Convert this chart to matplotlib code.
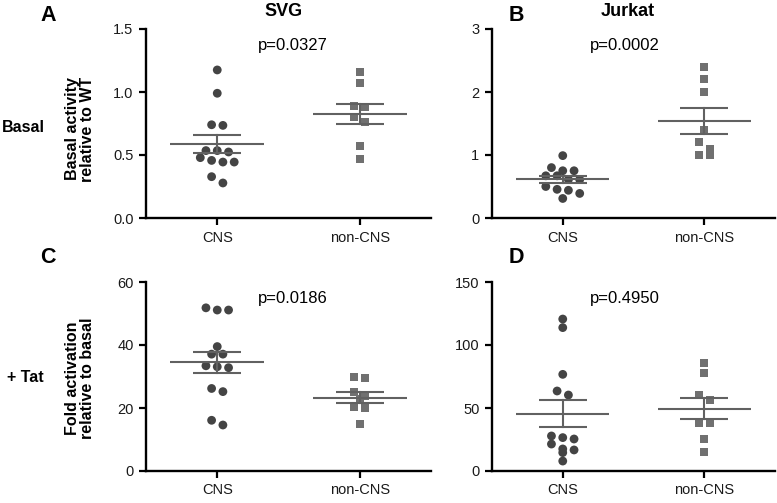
import numpy as np
import matplotlib
matplotlib.use("Agg")
import matplotlib.pyplot as plt

plt.rcParams['font.family'] = ['Liberation Sans', 'DejaVu Sans']

# ---------------- data ----------------
categories = ["CNS", "non-CNS"]
svg_basal_cns = [1.175, 0.99, 0.74, 0.735, 0.535, 0.535, 0.524, 0.479, 0.457, 0.444, 0.444, 0.328, 0.278]
svg_basal_noncns = [1.156, 1.069, 0.889, 0.878, 0.799, 0.76, 0.574, 0.466]
jurkat_basal_cns = [0.99, 0.80, 0.75, 0.75, 0.67, 0.67, 0.61, 0.61, 0.50, 0.455, 0.44, 0.39, 0.31]
jurkat_basal_noncns = [2.40, 2.20, 2.00, 1.40, 1.20, 1.10, 1.00, 1.00]
svg_tat_cns = [51.8, 51.1, 51.1, 39.5, 37.1, 37.1, 33.4, 33.1, 32.8, 26.2, 25.2, 16.1, 14.6]
svg_tat_noncns = [29.9, 29.4, 25.2, 23.8, 22.8, 20.4, 19.9, 14.9]
jurkat_tat_cns = [120.6, 113.8, 76.7, 63.5, 60.3, 27.8, 26.5, 25.4, 21.4, 17.5, 16.7, 14.6, 7.9]
jurkat_tat_noncns = [85.4, 77.5, 60.3, 56.3, 38.4, 38.4, 25.4, 15.1]
p_values = ["p=0.0327", "p=0.0002", "p=0.0186", "p=0.4950"]
titles = ["SVG", "Jurkat"]
panel_letters = ["A", "B", "C", "D"]
row_labels = ["Basal", "+ Tat"]
y_labels = ["Basal activity\nrelative to WT", "Fold activation\nrelative to basal"]
yticks_A = [0.0, 0.5, 1.0, 1.5]
yticks_B = [0, 1, 2, 3]
yticks_C = [0, 20, 40, 60]
yticks_D = [0, 50, 100, 150]

W, H = 777, 503
fig = plt.figure(figsize=(W / 100, H / 100), dpi=100)


def rect(x0, y_bottom, x1, y_top):
    return [x0 / W, 1 - y_bottom / H, (x1 - x0) / W, (y_bottom - y_top) / H]


DOT_C = "#444444"
SQ_C = "#707070"
LINE_C = "#616161"


def swarm_x(ax, center, values, spacing_px=11.3, group_px=7.0):
    vals = np.asarray(values, float)
    pts = ax.transData.transform(np.column_stack([np.full(len(vals), center), vals]))
    ypx = pts[:, 1]
    order = np.argsort(-ypx)
    groups, cur = [], [order[0]]
    for i in order[1:]:
        if ypx[cur[0]] - ypx[i] < group_px:
            cur.append(i)
        else:
            groups.append(cur)
            cur = [i]
    groups.append(cur)
    ppu = ax.transData.transform((1, 0))[0] - ax.transData.transform((0, 0))[0]
    dx = spacing_px / ppu
    xs = np.zeros(len(vals))
    for g in groups:
        n = len(g)
        offs = (np.arange(n) - (n - 1) / 2) * dx
        for k, i in enumerate(g):
            xs[i] = center + offs[k]
    return xs


def panel(ax, cns, noncns, yticks, fmt):
    ax.set_xlim(-0.5, 1.5)
    ax.set_ylim(yticks[0], yticks[-1])
    ax.set_yticks(yticks)
    ax.set_yticklabels([fmt.format(t) for t in yticks])
    ax.set_xticks([0, 1])
    ax.set_xticklabels(categories)
    for s in ["top", "right"]:
        ax.spines[s].set_visible(False)
    for s in ["left", "bottom"]:
        ax.spines[s].set_linewidth(1.7)
    ax.tick_params(axis="both", length=5, width=1.6, labelsize=10.5, pad=4, color="black",
                   labelcolor="#1a1a1a")
    for i, (vals, mk, col, s) in enumerate([(cns, "o", DOT_C, 40), (noncns, "s", SQ_C, 32)]):
        xs = swarm_x(ax, i, vals)
        ax.scatter(xs, vals, marker=mk, s=s, color=col, edgecolors="none", zorder=3, clip_on=False)
        v = np.asarray(vals, float)
        m = v.mean()
        sem = v.std(ddof=1) / np.sqrt(len(v))
        ax.plot([i - 0.33, i + 0.33], [m, m], color=LINE_C, lw=1.5, zorder=4, solid_capstyle="butt")
        ax.plot([i - 0.17, i + 0.17], [m + sem, m + sem], color=LINE_C, lw=1.5, zorder=4, solid_capstyle="butt")
        ax.plot([i - 0.17, i + 0.17], [m - sem, m - sem], color=LINE_C, lw=1.5, zorder=4, solid_capstyle="butt")
        ax.plot([i, i], [m - sem, m + sem], color=LINE_C, lw=1.5, zorder=4)


axA = fig.add_axes(rect(146, 218, 431, 29))
axB = fig.add_axes(rect(492, 218, 775, 29))
axC = fig.add_axes(rect(146, 471, 431, 282))
axD = fig.add_axes(rect(492, 471, 775, 282))

panel(axA, svg_basal_cns, svg_basal_noncns, yticks_A, "{:.1f}")
panel(axB, jurkat_basal_cns, jurkat_basal_noncns, yticks_B, "{:d}")
panel(axC, svg_tat_cns, svg_tat_noncns, yticks_C, "{:d}")
panel(axD, jurkat_tat_cns, jurkat_tat_noncns, yticks_D, "{:d}")


def ftext(x, y, s, **kw):
    fig.text(x / W, 1 - y / H, s, **kw)


# titles
ftext(284, 11, titles[0], ha="center", va="center", fontsize=13, fontweight="bold")
ftext(628, 11, titles[1], ha="center", va="center", fontsize=13, fontweight="bold")
# panel letters
for (x, y), L in zip([(48, 21), (516, 21), (48, 263), (516, 263)], panel_letters):
    ftext(x, y, L, ha="center", va="baseline", fontsize=15.5, fontweight="bold")
# p-values
for (x, y), p in zip([(293, 50), (625, 50), (293, 303), (625, 303)], p_values):
    ftext(x, y, p, ha="center", va="baseline", fontsize=12)
# row labels
ftext(23, 127, row_labels[0], ha="center", va="center", fontsize=11.5, fontweight="bold")
ftext(25, 377, row_labels[1], ha="center", va="center", fontsize=11.5, fontweight="bold")
# y labels
ftext(80, 129, y_labels[0], ha="center", va="center", rotation=90, fontsize=11.5,
      fontweight="bold", multialignment="center", linespacing=1.0)
ftext(80, 378, y_labels[1], ha="center", va="center", rotation=90, fontsize=11.5,
      fontweight="bold", multialignment="center", linespacing=1.0)

fig.savefig("out.png", dpi=100)
